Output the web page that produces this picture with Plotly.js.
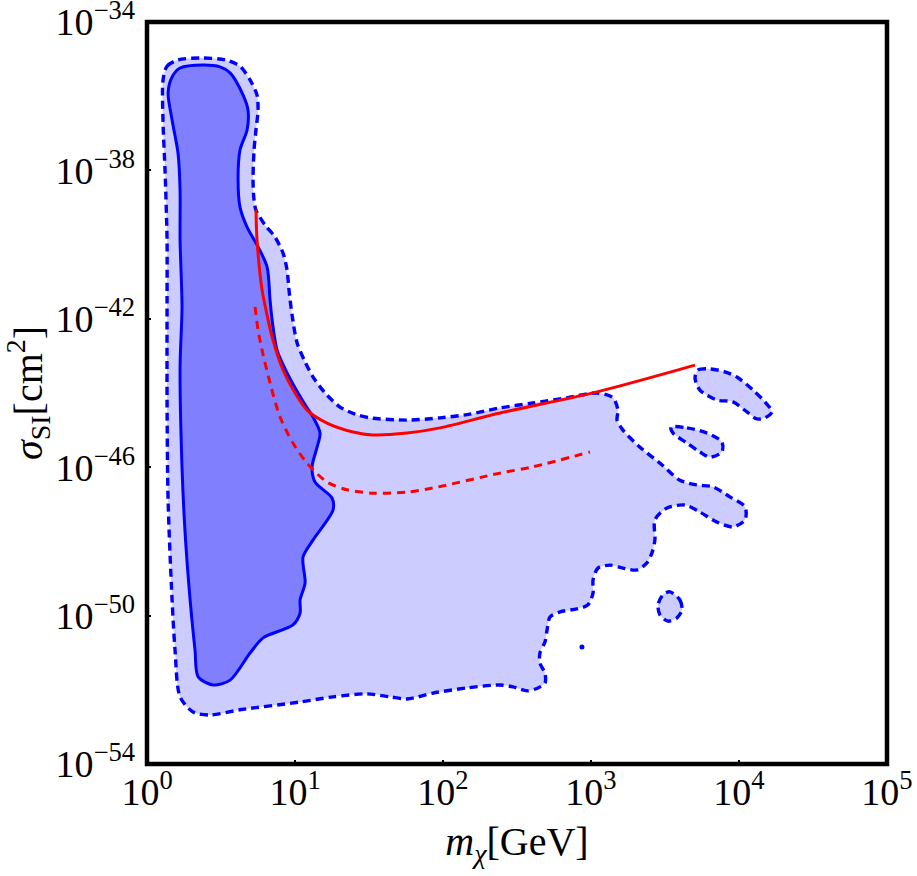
<!DOCTYPE html>
<html><head><meta charset="utf-8">
<script src="https://cdn.plot.ly/plotly-3.0.1.min.js"></script>
<style>html,body{margin:0;padding:0;background:#fff}#chart{width:917px;height:876px}</style>
</head><body><div id="chart"></div>
<script>
// Tick labels
const xTickVals = [1, 10, 100, 1000, 10000, 100000];
const xTickText = ['10<sup>0</sup>', '10<sup>1</sup>', '10<sup>2</sup>', '10<sup>3</sup>', '10<sup>4</sup>', '10<sup>5</sup>'];
const yTickVals = [1e-54, 1e-50, 1e-46, 1e-42, 1e-38, 1e-34];
const yTickText = ['10<sup>\u221254</sup>', '10<sup>\u221250</sup>', '10<sup>\u221246</sup>', '10<sup>\u221242</sup>', '10<sup>\u221238</sup>', '10<sup>\u221234</sup>'];

// All contour values below are log10(m_chi / GeV) and log10(sigma_SI / cm^2).
// Outer (dashed) allowed region, main body
const outerLogM = [0.108,0.135,0.209,0.358,0.527,0.628,0.696,0.743,0.75,0.736,0.723,0.716,0.723,0.736,0.797,0.865,0.919,0.946,0.959,0.980,1.014,1.068,1.122,1.203,1.304,1.405,1.507,1.757,1.980,2.182,2.385,2.608,2.838,3.041,3.149,3.182,3.176,3.216,3.331,3.466,3.601,3.716,3.824,3.939,4.041,4.041,3.959,3.851,3.736,3.635,3.514,3.432,3.432,3.412,3.378,3.311,3.216,3.128,3.047,3.014,3.014,2.980,2.905,2.791,2.723,2.703,2.689,2.655,2.655,2.689,2.689,2.642,2.568,2.473,2.385,2.162,1.932,1.757,1.642,1.486,1.257,1.034,0.628,0.426,0.311,0.223,0.189,0.169,0.142,0.135,0.135,0.135,0.122,0.108,0.108];
const outerLogS = [-35.56,-35.19,-35.02,-34.97,-35.02,-35.19,-35.56,-35.97,-36.37,-36.91,-37.45,-38.26,-38.80,-39.07,-39.47,-39.80,-40.23,-40.68,-41.22,-41.90,-42.65,-43.16,-43.57,-44.00,-44.38,-44.57,-44.67,-44.73,-44.67,-44.57,-44.40,-44.27,-44.13,-44.00,-44.13,-44.46,-44.73,-45.00,-45.46,-45.89,-46.35,-46.48,-46.53,-46.80,-47.07,-47.42,-47.61,-47.48,-47.21,-47.02,-47.10,-47.42,-47.96,-48.31,-48.58,-48.77,-48.72,-48.64,-48.72,-49.04,-49.39,-49.71,-49.82,-49.90,-50.04,-50.39,-50.71,-51.01,-51.28,-51.55,-51.82,-51.95,-52.03,-51.92,-51.87,-51.95,-52.09,-52.25,-52.19,-52.11,-52.19,-52.33,-52.54,-52.68,-52.60,-52.19,-50.93,-49.58,-46.88,-44.19,-41.49,-39.88,-38.07,-36.72,-35.56];

// Outer (dashed) islands
const island1LogM = [3.703,3.723,3.804,3.905,3.986,4.095,4.176,4.223,4.176,4.122,4.054,3.959,3.851,3.736,3.703];
const island1LogS = [-43.60,-43.38,-43.35,-43.43,-43.57,-43.92,-44.24,-44.51,-44.67,-44.70,-44.51,-44.24,-44.19,-43.92,-43.60];
const island2LogM = [3.541,3.649,3.784,3.885,3.885,3.804,3.736,3.649,3.554,3.541];
const island2LogS = [-44.92,-44.94,-45.08,-45.32,-45.59,-45.73,-45.59,-45.35,-45.08,-44.92];
const island3LogM = [3.534,3.601,3.615,3.581,3.520,3.466,3.453,3.486,3.534];
const island3LogS = [-49.36,-49.58,-49.85,-50.06,-50.15,-49.98,-49.71,-49.44,-49.36];
const dotLogM = [2.939];
const dotLogS = [-50.85];

// Inner (solid) region
const innerLogM = [0.223,0.378,0.493,0.561,0.649,0.682,0.676,0.628,0.615,0.628,0.676,0.75,0.811,0.831,0.845,0.878,0.946,1.068,1.122,1.169,1.149,1.115,1.135,1.250,1.257,1.122,1.054,1.068,1.034,1.034,0.986,0.784,0.696,0.561,0.446,0.345,0.324,0.291,0.257,0.236,0.223,0.236,0.223,0.223,0.209,0.169,0.142,0.169,0.223];
const innerLogS = [-35.24,-35.16,-35.21,-35.37,-35.97,-36.37,-36.91,-37.45,-38.26,-38.99,-39.53,-40.06,-40.60,-41.49,-42.03,-42.84,-43.46,-44.32,-44.65,-45.08,-45.46,-45.99,-46.40,-46.83,-47.15,-47.96,-48.42,-49.12,-49.58,-49.93,-50.25,-50.60,-51.01,-51.74,-51.87,-51.65,-50.93,-49.58,-47.77,-45.99,-43.30,-41.68,-39.88,-38.53,-37.53,-36.64,-35.91,-35.48,-35.24];

// Red solid limit
const limitLogM = [0.736,0.743,0.777,0.811,0.845,0.919,1.0,1.081,1.216,1.392,1.527,1.757,1.980,2.385,3.041,3.703];
const limitLogS = [-39.07,-39.88,-41.22,-41.90,-42.49,-43.38,-44.00,-44.46,-44.81,-45.05,-45.13,-45.08,-44.94,-44.54,-43.97,-43.25];
// Red dashed projection
const projLogM = [0.730,0.75,0.777,0.831,0.899,0.986,1.081,1.216,1.351,1.527,1.757,1.932,2.385,2.608,2.993];
const projLogS = [-41.68,-42.30,-42.84,-43.73,-44.65,-45.35,-45.89,-46.40,-46.61,-46.70,-46.67,-46.56,-46.16,-45.99,-45.59];

const p10 = a => a.map(v => Math.pow(10, v));

const lightFill = 'rgb(204,204,255)';
const darkFill = 'rgb(128,128,255)';
const blue = 'rgb(0,0,255)';
const red = 'rgb(255,0,0)';
const dashedBlue = {color: blue, width: 3.4, dash: '8px,5px', shape: 'spline', smoothing: 0.8};

function region(mx, sy, line, fill) {
  return {x: p10(mx), y: p10(sy), type: 'scatter', mode: 'lines', fill: 'toself', fillcolor: fill,
          line: line, hoverinfo: 'skip', showlegend: false};
}

const traces = [
  region(outerLogM, outerLogS, dashedBlue, lightFill),
  region(island1LogM, island1LogS, dashedBlue, lightFill),
  region(island2LogM, island2LogS, dashedBlue, lightFill),
  region(island3LogM, island3LogS, dashedBlue, lightFill),
  region(innerLogM, innerLogS, {color: blue, width: 3, shape: 'spline', smoothing: 0.8}, darkFill),
  {x: p10(dotLogM), y: p10(dotLogS), type: 'scatter', mode: 'markers', marker: {color: blue, size: 5}, hoverinfo: 'skip', showlegend: false},
  {x: p10(projLogM), y: p10(projLogS), type: 'scatter', mode: 'lines', line: {color: red, width: 3, dash: '8px,6px', shape: 'spline', smoothing: 0.8}, hoverinfo: 'skip', showlegend: false},
  {x: p10(limitLogM), y: p10(limitLogS), type: 'scatter', mode: 'lines', line: {color: red, width: 3, shape: 'spline', smoothing: 0.8}, hoverinfo: 'skip', showlegend: false}
];

const serif = 'Liberation Serif, Times New Roman, serif';
const layout = {
  width: 917, height: 876,
  margin: {l: 147, r: 30, t: 22, b: 112},
  paper_bgcolor: '#fff', plot_bgcolor: '#fff',
  showlegend: false,
  xaxis: {
    type: 'log', range: [-0.0005, 5.0005], showgrid: false, zeroline: false, showline: false,
    tickmode: 'array', tickvals: xTickVals, ticktext: xTickText,
    ticks: 'inside', ticklen: 4, tickwidth: 2, tickcolor: '#000',
    tickfont: {family: serif, size: 38, color: '#000'},
    ticklabelstandoff: 2, ticklabeloverflow: 'allow',
    title: {text: '<i>m</i><sub><i>\u03c7</i></sub>[GeV]', font: {family: serif, size: 40, color: '#000'}, standoff: 14},
    automargin: false, fixedrange: true
  },
  yaxis: {
    type: 'log', range: [-54.001, -33.999], showgrid: false, zeroline: false, showline: false,
    tickmode: 'array', tickvals: yTickVals, ticktext: yTickText,
    ticks: 'inside', ticklen: 4, tickwidth: 2, tickcolor: '#000',
    tickfont: {family: serif, size: 38, color: '#000'},
    ticklabelstandoff: 11, ticklabeloverflow: 'allow',
    title: {text: '<i>\u03c3</i><sub>SI</sub>[cm<sup>2</sup>]', font: {family: serif, size: 40, color: '#000'}, standoff: 10},
    automargin: false, fixedrange: true
  },
  shapes: [{type: 'rect', xref: 'paper', yref: 'paper', x0: 0, x1: 1, y0: 0, y1: 1, line: {color: '#000', width: 4.5}, fillcolor: 'rgba(0,0,0,0)', layer: 'above'}]
};

Plotly.newPlot('chart', traces, layout, {staticPlot: true, displayModeBar: false});
</script>
</body></html>
